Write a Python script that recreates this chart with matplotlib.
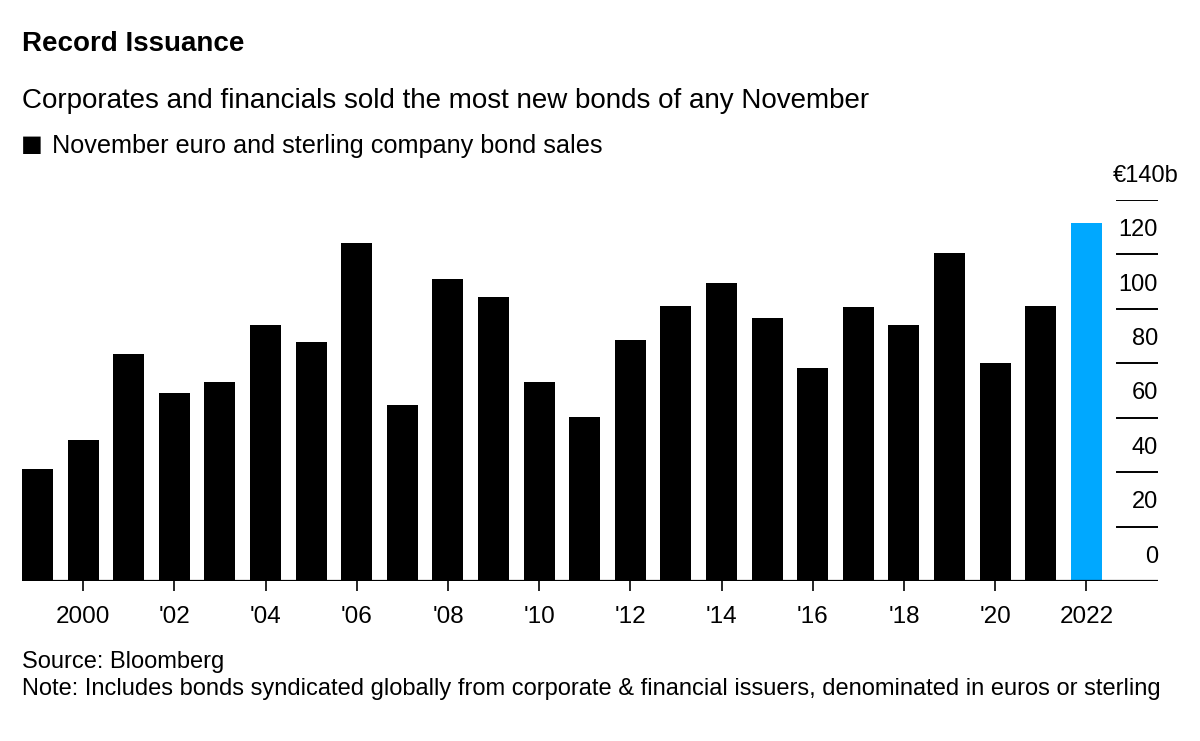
import matplotlib
matplotlib.use("Agg")
import matplotlib.pyplot as plt
import matplotlib.transforms as mtransforms

# November euro and sterling company bond sales, EUR billions
years = list(range(1999, 2023))
sales = [41.0, 51.8, 83.3, 69.2, 73.0, 94.2, 87.7, 124.3, 64.7, 110.9, 104.5, 73.0,
         60.2, 88.5, 101.2, 109.6, 96.8, 78.2, 100.6, 94.2, 120.5, 80.0, 101.2, 131.5]
tick_years = list(range(2000, 2023, 2))
tick_labels = ["2000", "'02", "'04", "'06", "'08", "'10", "'12", "'14", "'16", "'18", "'20", "2022"]
y_ticks = [0, 20, 40, 60, 80, 100, 120, 140]
y_labels = ["0", "20", "40", "60", "80", "100", "120", "\u20ac140b"]

plt.rcParams["font.family"] = ["Liberation Sans", "DejaVu Sans"]

W, H = 1200, 741
fig = plt.figure(figsize=(W / 100, H / 100), dpi=100)

# axes placed in pixel terms: left 22, right 1158, bottom 581, top 200
left, right, bottom, top = 22, 1158, 581, 200
ax = fig.add_axes([left / W, 1 - bottom / H, (right - left) / W, (bottom - top) / H])

colors = ["black"] * (len(years) - 1) + ["#00a8ff"]
ax.bar(years, sales, width=0.68, color=colors, zorder=2)

ax.set_xlim(1998.66, 2023.57)
ax.set_ylim(0, 140)

for s in ax.spines.values():
    s.set_visible(False)
ax.axhline(0, color="black", lw=1.6, zorder=3)

# short gridlines at the right, labels sit above each line
gx = (1117 - left) / (right - left)
trans = mtransforms.blended_transform_factory(ax.transAxes, ax.transData)
for v, lab in zip(y_ticks, y_labels):
    if v > 0:
        ax.axhline(v, xmin=gx, xmax=1, color="black", lw=1.4)
    dx = 15 if lab.endswith("b") else 0  # unit suffix hangs past the numbers
    ax.annotate(lab, xy=(1, v), xycoords=trans, xytext=(dx, 17.5), textcoords="offset points",
                ha="right", va="center", fontsize=17, color="black")

ax.set_yticks([])
ax.set_xticks(tick_years)
ax.set_xticklabels(tick_labels, fontsize=17.5)
ax.tick_params(axis="x", length=7, width=1.2, color="black", pad=11)

fig.text(22 / W, 1 - 44 / H, "Record Issuance", fontsize=20, fontweight="bold", va="center")
fig.text(22 / W, 1 - 101 / H, "Corporates and financials sold the most new bonds of any November",
         fontsize=20, va="center")
fig.text(21 / W, 1 - 146 / H, "\u25a0", fontsize=26, va="center")
fig.text(52 / W, 1 - 146 / H, "November euro and sterling company bond sales", fontsize=18.2, va="center")
fig.text(22 / W, 1 - 662 / H, "Source: Bloomberg", fontsize=17, va="center")
fig.text(22 / W, 1 - 689 / H,
         "Note: Includes bonds syndicated globally from corporate & financial issuers, denominated in euros or sterling",
         fontsize=17, va="center")

fig.savefig("out.png", dpi=100, facecolor="white")
